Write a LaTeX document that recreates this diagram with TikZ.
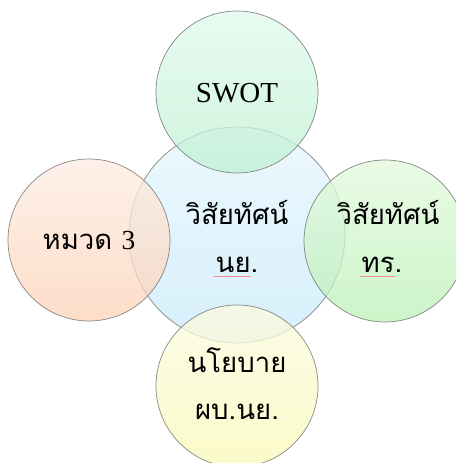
\documentclass[tikz,border=0pt]{standalone}
\usepackage{fontspec}
\setmainfont{Liberation Serif}
\newfontfamily\thaifont[Script=Thai]{Loma}
\begin{document}
\begin{tikzpicture}[x=1pt,y=1pt,
  bub/.style={circle, draw=black!55, line width=0.7pt, fill opacity=0.75, draw opacity=0.85, minimum size=#1, inner sep=0pt},
  lbl/.style={inner sep=0pt, font=\thaifont\fontsize{27.5}{32}\selectfont},
  lat/.style={inner sep=0pt, font=\fontsize{29}{34}\selectfont},
  squig/.style={draw=red!45, line width=0.7pt}]
\path[use as bounding box] (0,0) rectangle (456,463);
\clip (0,0) rectangle (456,463);
\node[bub=216pt, top color={rgb,255:red,230;green,246;blue,254}, bottom color={rgb,255:red,200;green,234;blue,250}] (c) at (237,228) {};
\node[bub=162pt, top color={rgb,255:red,224;green,250;blue,236}, bottom color={rgb,255:red,190;green,240;blue,210}] (t) at (237,371) {};
\node[bub=162pt, top color={rgb,255:red,254;green,236;blue,226}, bottom color={rgb,255:red,252;green,210;blue,182}] (l) at (89,223) {};
\node[bub=162pt, top color={rgb,255:red,226;green,250;blue,220}, bottom color={rgb,255:red,186;green,240;blue,182}] (r) at (385,222) {};
\node[bub=162pt, top color={rgb,255:red,252;green,252;blue,224}, bottom color={rgb,255:red,248;green,248;blue,184}] (b) at (237,77) {};
\node[lat] (ts) at (237,370) {SWOT};
\node[lbl] (c1) at (237,250) {วิสัยทัศน์};
\node[lbl] (c2) at (237,198) {นย.};
\node[lbl] (r1) at (388,250) {วิสัยทัศน์};
\node[lbl] (r2) at (382,198) {ทร.};
\node[lbl] (l1) at (89,222) {หมวด {\fontspec{Liberation Serif}3}};
\node[lbl] (b1) at (237,103) {นโยบาย};
\node[lbl] (b2) at (237,51) {ผบ.นย.};
\draw[squig] ([xshift=-2pt,yshift=-3pt]c2.south west) -- ([xshift=-7pt,yshift=-3pt]c2.south east);
\draw[squig] ([xshift=-2pt,yshift=-3pt]r2.south west) -- ([xshift=-7pt,yshift=-3pt]r2.south east);
\end{tikzpicture}
\end{document}
